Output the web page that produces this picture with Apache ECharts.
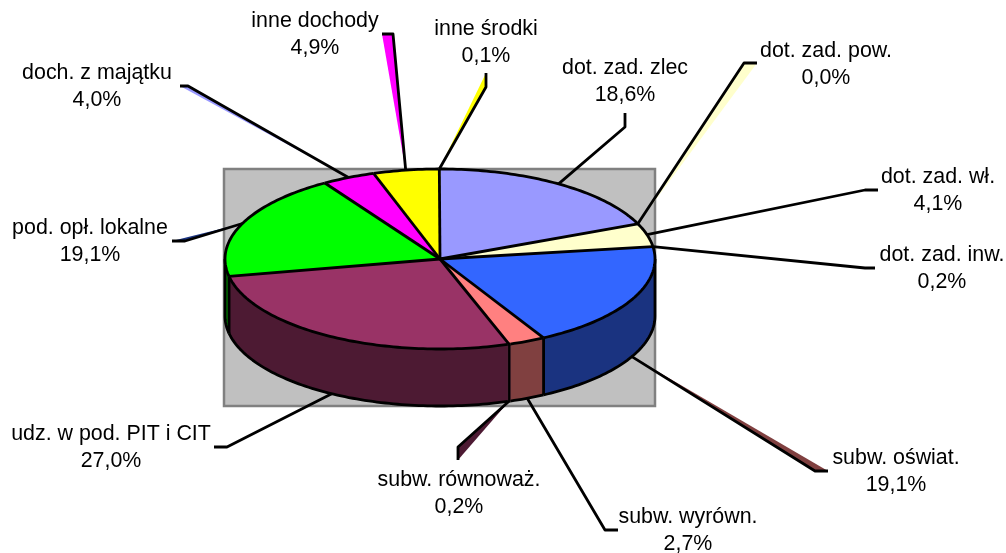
<!DOCTYPE html>
<html><head><meta charset="utf-8">
<style>html,body{margin:0;padding:0;background:#fff}#c{width:1006px;height:553px}</style>
<script src="https://cdn.jsdelivr.net/npm/echarts@6/dist/echarts.min.js"></script>
</head><body><div id="c"></div>
<script>
// Data (clockwise from 12 o'clock)
const categories = ['dot. zad. zlec','dot. zad. pow.','dot. zad. wł.','dot. zad. inw.','subw. oświat.','subw. wyrówn.','subw. równoważ.','udz. w pod. PIT i CIT','pod. opł. lokalne','doch. z majątku','inne dochody','inne środki'];
const values = [18.6,0.0,4.1,0.2,19.1,2.7,0.2,27.0,19.1,4.0,4.9,0.1];
const valueLabels = ['18,6%','0,0%','4,1%','0,2%','19,1%','2,7%','0,2%','27,0%','19,1%','4,0%','4,9%','0,1%'];

// Styles
const topColors  = ['#9999FF','#FFFFCC','#FFFFCC','#FFFFCC','#3366FF','#FF8080','#993366','#993366','#00FF00','#FF00FF','#FFFF00','#FFFF00'];
const sideColors = ['#4D4D80','#808066','#808066','#808066','#1A3380','#804040','#4D1A33','#4D1A33','#008000','#800080','#808000','#808000'];
const wedgeColors = [null,'#FFFFCC',null,null,'#804040',null,'#4D1A33',null,'#1A3380','#9999FF','#FF00FF','#FFFF00'];

// Layout
const cx = 440, cy = 259, rx = 215, ry = 90, depth = 57;
const plotRect = {x:224, y:169, width:431, height:237};
// label centre, leader elbow, leader end
const labelCentres = [[625,82],[826,65],[938,191],[942,269],[896,472],[688,531],[459,494],[111,448],[90,242],[97,87],[315,35],[486,43]];
const leaderElbows = [[625,127],[744,63],[865,190],[865,268],[815,471],[605,530],[458,447],[227,447],[185,241],[188,86],[393,34],[486,87]];
const leaderEnds   = [[625,113],[757,63],[878,190],[875,268],[828,471],[618,530],[458,460],[214,447],[172,241],[180,86],[382,34],[486,73]];
const FONT = '21.4px "Liberation Sans", Arial, sans-serif';
const TINY = 0.5; // slices this small read as one single line

const total = values.reduce((a,b)=>a+b,0);
const starts = []; values.reduce((a,v,i)=>{starts[i]=a;return a+v;},0);
const toT = f => f/total*Math.PI*2;
const px = t => cx + rx*Math.sin(t);
const py = t => cy - ry*Math.cos(t);
const isTiny = i => values[(i+values.length)%values.length] < TINY;

function arcPts(t0,t1,dy){
  const n = Math.max(2,Math.ceil(Math.abs(t1-t0)/0.02)), out=[];
  for(let i=0;i<=n;i++){const t=t0+(t1-t0)*i/n; out.push([px(t),py(t)+dy]);}
  return out;
}
const LINE = {stroke:'#000',lineWidth:2.8,lineJoin:'round',fill:'none'};
const line = pts => ({type:'polyline',shape:{points:pts},style:LINE});
const fillPoly = (pts,c) => ({type:'polygon',shape:{points:pts},style:{fill:c,stroke:c,lineWidth:0.5}});

// angle at which a slice's leading dividing line sits, or null when none
function dividerAngle(i){
  if(isTiny(i)) return toT(starts[i]+values[i]/2);
  if(isTiny(i-1)) return null;
  return toT(starts[i]);
}

function renderSide(params,api){
  const i = params.dataIndex, v = api.value(0);
  const a = toT(starts[i]), b = toT(starts[i]+v);
  const lo = Math.PI/2, hi = Math.PI*1.5;
  const t0 = Math.max(a,lo), t1 = Math.min(b,hi);
  if(!(t1>t0)) return {type:'group',children:[]};
  const ch = [fillPoly(arcPts(t0,t1,0).concat(arcPts(t1,t0,depth)),sideColors[i])];
  ch.push(line(arcPts(t0,t1,depth)));
  const d = dividerAngle(i);
  if(d!==null && d>=lo && d<=hi) ch.push(line([[px(d),py(d)],[px(d),py(d)+depth]]));
  if(a<lo) ch.push(line([[px(lo),py(lo)],[px(lo),py(lo)+depth]]));
  if(b>hi) ch.push(line([[px(hi),py(hi)],[px(hi),py(hi)+depth]]));
  return {type:'group',children:ch};
}
function renderTopFill(params,api){
  const i = params.dataIndex, v = api.value(0);
  if(v<=0) return {type:'group',children:[]};
  return fillPoly([[cx,cy]].concat(arcPts(toT(starts[i]),toT(starts[i]+v),0)),topColors[i]);
}
function renderTopLine(params,api){
  const i = params.dataIndex, v = api.value(0);
  const ch = [];
  if(v>0) ch.push(line(arcPts(toT(starts[i]),toT(starts[i]+v),0)));
  const d = dividerAngle(i);
  if(d!==null) ch.push(line([[cx,cy],[px(d),py(d)]]));
  return {type:'group',children:ch};
}
function renderLabel(params,api){
  const i = params.dataIndex, v = api.value(0);
  const t = toT(starts[i]+v/2);
  const front = t>Math.PI/2 && t<Math.PI*1.5;
  const s = [px(t),py(t)+(front?depth:0)];
  const el = leaderElbows[i], en = leaderEnds[i], lc = labelCentres[i];
  const ch = [];
  if(wedgeColors[i]) ch.push({type:'polygon',shape:{points:[s,el,en]},style:{fill:wedgeColors[i]}});
  ch.push(line([s,el,en]));
  ch.push({type:'text',style:{text:categories[i]+'\n'+valueLabels[i],x:lc[0],y:lc[1],align:'center',verticalAlign:'middle',font:FONT,lineHeight:27,fill:'#000'}});
  return {type:'group',children:ch};
}
const chart = echarts.init(document.getElementById('c'),null,{renderer:'canvas'});
const seriesData = values.map((v,i)=>({name:categories[i],value:[v]}));
const layer = (z,fn)=>({type:'custom',coordinateSystem:'none',z:z,clip:false,silent:true,data:seriesData,renderItem:fn});
chart.setOption({
  animation:false,
  backgroundColor:'#fff',
  tooltip:{show:false},
  graphic:{elements:[{type:'rect',z:0,shape:plotRect,style:{fill:'#C0C0C0',stroke:'#808080',lineWidth:2.5}}]},
  series:[layer(2,renderSide),layer(3,renderTopFill),layer(4,renderTopLine),layer(5,renderLabel)]
});
</script></body></html>
